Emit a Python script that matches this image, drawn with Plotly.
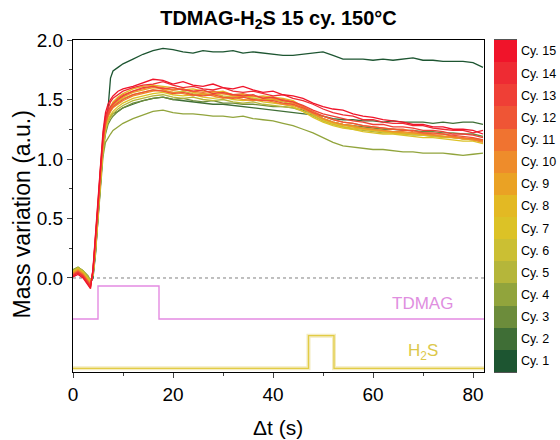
import plotly.graph_objects as go

# ---------------- data ----------------
t = [0, 1, 2, 3, 3.5, 4, 4.5, 5, 5.5, 6, 6.5, 7, 7.5, 8, 9, 10, 12, 14, 16, 18, 20, 22, 24, 26, 28,
     30, 32, 34, 36, 38, 40, 42, 44, 46, 48, 50, 52, 54, 56, 58, 60, 62, 64, 66, 68, 70, 72, 74, 76, 78, 80, 82]

cy1 = [0.05, 0.07, 0.04, -0.01, -0.04, 0.0, 0.2, 0.5, 0.8, 1.08, 1.28, 1.42, 1.68, 1.74, 1.77, 1.80, 1.84, 1.88, 1.91, 1.93, 1.92, 1.90, 1.89, 1.91, 1.90,
       1.90, 1.91, 1.89, 1.90, 1.89, 1.88, 1.87, 1.87, 1.88, 1.89, 1.90, 1.87, 1.84, 1.84, 1.84, 1.83, 1.84, 1.83, 1.84, 1.85, 1.83, 1.83, 1.82, 1.82, 1.82, 1.81, 1.77]
cy2 = [0.06, 0.08, 0.05, 0.0, -0.03, 0.03, 0.25, 0.55, 0.85, 1.1, 1.26, 1.33, 1.36, 1.38, 1.40, 1.43, 1.46, 1.49, 1.51, 1.52, 1.50, 1.49, 1.48, 1.47, 1.46,
       1.46, 1.45, 1.44, 1.43, 1.42, 1.41, 1.40, 1.39, 1.38, 1.37, 1.36, 1.34, 1.33, 1.33, 1.32, 1.32, 1.31, 1.32, 1.31, 1.31, 1.31, 1.30, 1.31, 1.30, 1.31, 1.31, 1.29]
cy3 = [0.07, 0.09, 0.06, 0.01, -0.02, 0.02, 0.22, 0.52, 0.82, 1.06, 1.21, 1.29, 1.33, 1.36, 1.40, 1.43, 1.47, 1.49, 1.51, 1.52, 1.50, 1.51, 1.49, 1.48, 1.49,
       1.47, 1.47, 1.46, 1.46, 1.45, 1.44, 1.44, 1.43, 1.41, 1.38, 1.34, 1.31, 1.29, 1.28, 1.27, 1.26, 1.25, 1.25, 1.24, 1.24, 1.23, 1.23, 1.22, 1.22, 1.21, 1.21, 1.19]
cy4 = [0.07, 0.09, 0.06, 0.02, -0.02, 0.02, 0.22, 0.5, 0.8, 1.02, 1.14, 1.18, 1.21, 1.24, 1.27, 1.30, 1.34, 1.37, 1.40, 1.41, 1.39, 1.38, 1.38, 1.37, 1.36,
       1.36, 1.35, 1.36, 1.34, 1.33, 1.32, 1.30, 1.28, 1.25, 1.22, 1.18, 1.14, 1.11, 1.10, 1.09, 1.08, 1.08, 1.07, 1.06, 1.06, 1.05, 1.05, 1.05, 1.04, 1.03, 1.04, 1.05]
cy5 = [0.06, 0.09, 0.06, 0.01, -0.02, 0.03, 0.23, 0.53, 0.83, 1.08, 1.23, 1.31, 1.35, 1.38, 1.42, 1.45, 1.49, 1.51, 1.53, 1.54, 1.52, 1.51, 1.52, 1.50, 1.49,
       1.50, 1.48, 1.47, 1.48, 1.46, 1.45, 1.44, 1.43, 1.40, 1.36, 1.32, 1.29, 1.27, 1.25, 1.24, 1.23, 1.22, 1.22, 1.21, 1.20, 1.20, 1.19, 1.19, 1.18, 1.17, 1.17, 1.16]
cy6 = [0.06, 0.08, 0.05, 0.0, -0.03, 0.03, 0.24, 0.54, 0.84, 1.10, 1.26, 1.35, 1.40, 1.44, 1.48, 1.51, 1.54, 1.56, 1.58, 1.57, 1.56, 1.57, 1.55, 1.54, 1.55,
       1.53, 1.52, 1.53, 1.51, 1.50, 1.50, 1.48, 1.46, 1.42, 1.37, 1.32, 1.29, 1.27, 1.26, 1.25, 1.24, 1.23, 1.22, 1.21, 1.21, 1.20, 1.19, 1.18, 1.18, 1.17, 1.16, 1.15]
cy7 = [0.05, 0.08, 0.05, -0.01, -0.04, 0.03, 0.25, 0.55, 0.85, 1.10, 1.25, 1.33, 1.37, 1.40, 1.44, 1.47, 1.51, 1.53, 1.55, 1.56, 1.54, 1.53, 1.54, 1.52, 1.51,
       1.52, 1.50, 1.49, 1.50, 1.48, 1.47, 1.46, 1.44, 1.40, 1.35, 1.31, 1.28, 1.26, 1.25, 1.23, 1.22, 1.21, 1.21, 1.20, 1.19, 1.18, 1.18, 1.17, 1.16, 1.15, 1.15, 1.13]
cy8 = [0.05, 0.07, 0.04, -0.02, -0.04, 0.04, 0.26, 0.56, 0.86, 1.13, 1.30, 1.39, 1.44, 1.48, 1.52, 1.55, 1.59, 1.61, 1.62, 1.61, 1.60, 1.58, 1.59, 1.57, 1.56,
       1.57, 1.54, 1.54, 1.52, 1.53, 1.52, 1.51, 1.49, 1.44, 1.38, 1.33, 1.30, 1.28, 1.27, 1.25, 1.24, 1.23, 1.22, 1.22, 1.21, 1.20, 1.20, 1.19, 1.18, 1.17, 1.16, 1.15]
cy9 = [0.04, 0.07, 0.04, -0.02, -0.05, 0.04, 0.27, 0.57, 0.87, 1.13, 1.29, 1.38, 1.42, 1.45, 1.49, 1.52, 1.56, 1.58, 1.60, 1.59, 1.58, 1.59, 1.56, 1.55, 1.54,
       1.55, 1.53, 1.52, 1.53, 1.51, 1.50, 1.49, 1.47, 1.44, 1.39, 1.34, 1.31, 1.29, 1.27, 1.26, 1.25, 1.24, 1.23, 1.22, 1.22, 1.21, 1.20, 1.19, 1.19, 1.17, 1.17, 1.16]
cy10 = [0.04, 0.06, 0.03, -0.03, -0.05, 0.05, 0.28, 0.58, 0.88, 1.13, 1.28, 1.36, 1.40, 1.43, 1.46, 1.49, 1.53, 1.55, 1.57, 1.58, 1.56, 1.55, 1.53, 1.55, 1.53,
        1.51, 1.52, 1.50, 1.49, 1.50, 1.48, 1.46, 1.45, 1.42, 1.38, 1.34, 1.31, 1.29, 1.28, 1.26, 1.25, 1.24, 1.23, 1.23, 1.22, 1.21, 1.20, 1.19, 1.18, 1.17, 1.16, 1.14]
cy11 = [0.03, 0.06, 0.03, -0.03, -0.06, 0.05, 0.29, 0.59, 0.89, 1.15, 1.31, 1.39, 1.43, 1.47, 1.51, 1.54, 1.57, 1.59, 1.61, 1.60, 1.58, 1.59, 1.57, 1.56, 1.57,
        1.55, 1.54, 1.55, 1.53, 1.52, 1.51, 1.50, 1.48, 1.44, 1.40, 1.36, 1.33, 1.31, 1.30, 1.28, 1.27, 1.26, 1.25, 1.25, 1.23, 1.22, 1.21, 1.21, 1.19, 1.18, 1.17, 1.15]
cy12 = [0.03, 0.05, 0.02, -0.04, -0.06, 0.06, 0.30, 0.60, 0.90, 1.15, 1.30, 1.37, 1.41, 1.44, 1.47, 1.50, 1.54, 1.56, 1.58, 1.57, 1.55, 1.56, 1.54, 1.53, 1.54,
        1.52, 1.51, 1.52, 1.50, 1.49, 1.49, 1.47, 1.46, 1.43, 1.39, 1.36, 1.33, 1.31, 1.30, 1.28, 1.27, 1.26, 1.25, 1.24, 1.24, 1.22, 1.22, 1.21, 1.20, 1.19, 1.18, 1.16]
cy13 = [0.02, 0.05, 0.02, -0.04, -0.07, 0.06, 0.31, 0.61, 0.91, 1.17, 1.33, 1.40, 1.44, 1.46, 1.50, 1.53, 1.57, 1.60, 1.61, 1.59, 1.60, 1.58, 1.57, 1.58, 1.55,
        1.56, 1.54, 1.53, 1.54, 1.51, 1.52, 1.49, 1.48, 1.45, 1.41, 1.38, 1.36, 1.34, 1.32, 1.31, 1.29, 1.29, 1.27, 1.27, 1.26, 1.24, 1.24, 1.23, 1.21, 1.21, 1.20, 1.18]
cy14 = [0.02, 0.04, 0.01, -0.05, -0.08, 0.07, 0.33, 0.63, 0.93, 1.20, 1.36, 1.43, 1.48, 1.51, 1.54, 1.57, 1.60, 1.62, 1.63, 1.65, 1.62, 1.60, 1.61, 1.59, 1.58,
        1.60, 1.57, 1.56, 1.57, 1.55, 1.53, 1.54, 1.51, 1.49, 1.46, 1.42, 1.39, 1.37, 1.36, 1.33, 1.33, 1.31, 1.30, 1.30, 1.28, 1.28, 1.26, 1.25, 1.24, 1.24, 1.22, 1.24]
cy15 = [0.01, 0.03, 0.0, -0.06, -0.09, 0.08, 0.35, 0.66, 0.96, 1.23, 1.39, 1.46, 1.50, 1.53, 1.57, 1.59, 1.61, 1.64, 1.67, 1.66, 1.63, 1.65, 1.62, 1.61, 1.63,
        1.60, 1.59, 1.61, 1.58, 1.56, 1.57, 1.54, 1.53, 1.51, 1.47, 1.44, 1.42, 1.41, 1.38, 1.36, 1.35, 1.33, 1.32, 1.31, 1.29, 1.29, 1.27, 1.27, 1.25, 1.25, 1.24, 1.21]

cycle_labels = ["Cy. %d" % i for i in range(1, 16)]
cycle_values = [cy1, cy2, cy3, cy4, cy5, cy6, cy7, cy8, cy9, cy10, cy11, cy12, cy13, cy14, cy15]
cycle_colors = ["#1d5531", "#3f6e36", "#6c8c3b", "#91a43c", "#b5b63a", "#cbbf33", "#dcc226", "#e3b923",
                "#eaa224", "#ee8c2b", "#f07330", "#ef5535", "#ef3f36", "#ee2b33", "#f0142a"]

tdmag_t = [0, 5, 17.2, 82.2]
tdmag_y = [-0.345, -0.067, -0.345, -0.345]
h2s_t = [0, 47.1, 52.2, 82.2]
h2s_y = [-0.759, -0.485, -0.759, -0.759]

x_ticks = [0, 20, 40, 60, 80]
x_minor = [10, 30, 50, 70]
y_ticks = [0.0, 0.5, 1.0, 1.5, 2.0]
y_tick_text = ["0.0", "0.5", "1.0", "1.5", "2.0"]
y_minor = [0.25, 0.75, 1.25, 1.75]

FONT = "Arial, Liberation Sans, sans-serif"
PINK = "#e48be2"
YELLOW = "#e2cc45"

fig = go.Figure()

# zero dotted line
fig.add_trace(go.Scatter(x=[0, 82.2], y=[0, 0], mode="lines",
                         line=dict(color="#808080", width=1, dash="dot"), hoverinfo="skip"))

# pulses
fig.add_trace(go.Scatter(x=tdmag_t, y=tdmag_y, mode="lines", line_shape="hv",
                         line=dict(color=PINK, width=1.4)))
fig.add_trace(go.Scatter(x=h2s_t, y=h2s_y, mode="lines", line_shape="hv",
                         line=dict(color="#f4ecc0", width=4)))
fig.add_trace(go.Scatter(x=h2s_t, y=h2s_y, mode="lines", line_shape="hv",
                         line=dict(color=YELLOW, width=1.3)))

# cycles (cycle 1 first so the red ones end up on top)
for lab, vals, col in zip(cycle_labels, cycle_values, cycle_colors):
    fig.add_trace(go.Scatter(x=t, y=vals, mode="lines", name=lab,
                             line=dict(color=col, width=1.3)))

# colour key as a discrete heatmap
n = len(cycle_colors)
cs = []
for i, c in enumerate(cycle_colors):
    cs.append([i / n, c])
    cs.append([(i + 1) / n, c])
fig.add_trace(go.Heatmap(x=[0], y=cycle_labels, z=[[i + 1] for i in range(n)],
                         colorscale=cs, zmin=0.5, zmax=n + 0.5, showscale=False,
                         xaxis="x2", yaxis="y2", hoverinfo="skip"))

L, R, T, B = 73, 4, 40, 68
W, H = 560, 440
pw = W - L - R
main_right = (484 - L) / pw

fig.update_layout(
    width=W, height=H, margin=dict(l=L, r=R, t=T, b=B),
    paper_bgcolor="white", plot_bgcolor="white", showlegend=False,
    font=dict(family=FONT, color="black"),
    title=dict(text="<b>TDMAG-H<sub>2</sub>S 15 cy. 150°C</b>", font=dict(size=20, family=FONT),
               x=main_right / 2, xref="paper", xanchor="center",
               y=1 - 18 / H, yref="container", yanchor="middle"),
    xaxis=dict(domain=[0, main_right], range=[0, 82.2], showgrid=False, zeroline=False,
               showline=True, linecolor="black", linewidth=1.2, mirror=True,
               tickmode="array", tickvals=x_ticks, ticks="outside", ticklen=5, tickwidth=1.2,
               tickfont=dict(size=19),
               minor=dict(tickmode="array", tickvals=x_minor, ticks="outside", ticklen=3, tickwidth=1)),
    yaxis=dict(range=[-0.79, 2.0], showgrid=False, zeroline=False,
               showline=True, linecolor="black", linewidth=1.2, mirror=True,
               tickmode="array", tickvals=y_ticks, ticktext=y_tick_text,
               ticks="outside", ticklen=5, tickwidth=1.2, tickfont=dict(size=19),
               minor=dict(tickmode="array", tickvals=y_minor, ticks="outside", ticklen=3, tickwidth=1)),
    xaxis2=dict(domain=[(494 - L) / pw, (517 - L) / pw], anchor="y2", showticklabels=False,
                showgrid=False, zeroline=False, showline=True, linecolor="#555555", linewidth=1, mirror=True,
                ticks=""),
    yaxis2=dict(domain=[0, 1], anchor="x2", side="right", type="category",
                showgrid=False, zeroline=False, showline=False, ticks="",
                tickfont=dict(size=12.5), ticklabelstandoff=3),
)

fig.add_annotation(text="Mass variation (a.u.)", xref="paper", yref="paper", x=0, y=(372 - 215) / 332,
                   xshift=-51.5, textangle=-90, showarrow=False, font=dict(size=23),
                   xanchor="center", yanchor="middle")
fig.add_annotation(text="Δt (s)", xref="paper", yref="paper", x=(278 - L) / pw, y=0, yshift=-55,
                   showarrow=False, font=dict(size=21), xanchor="center", yanchor="middle")
fig.add_annotation(text="TDMAG", x=69.8, y=-0.214, xref="x", yref="y", showarrow=False,
                   font=dict(size=17, color="#e08ee0"), xanchor="center", yanchor="middle")
fig.add_annotation(text="H<sub>2</sub>S", x=70, y=-0.62, xref="x", yref="y", showarrow=False,
                   font=dict(size=17, color="#dcc84a"), xanchor="center", yanchor="middle")

fig.write_html("out.html")
